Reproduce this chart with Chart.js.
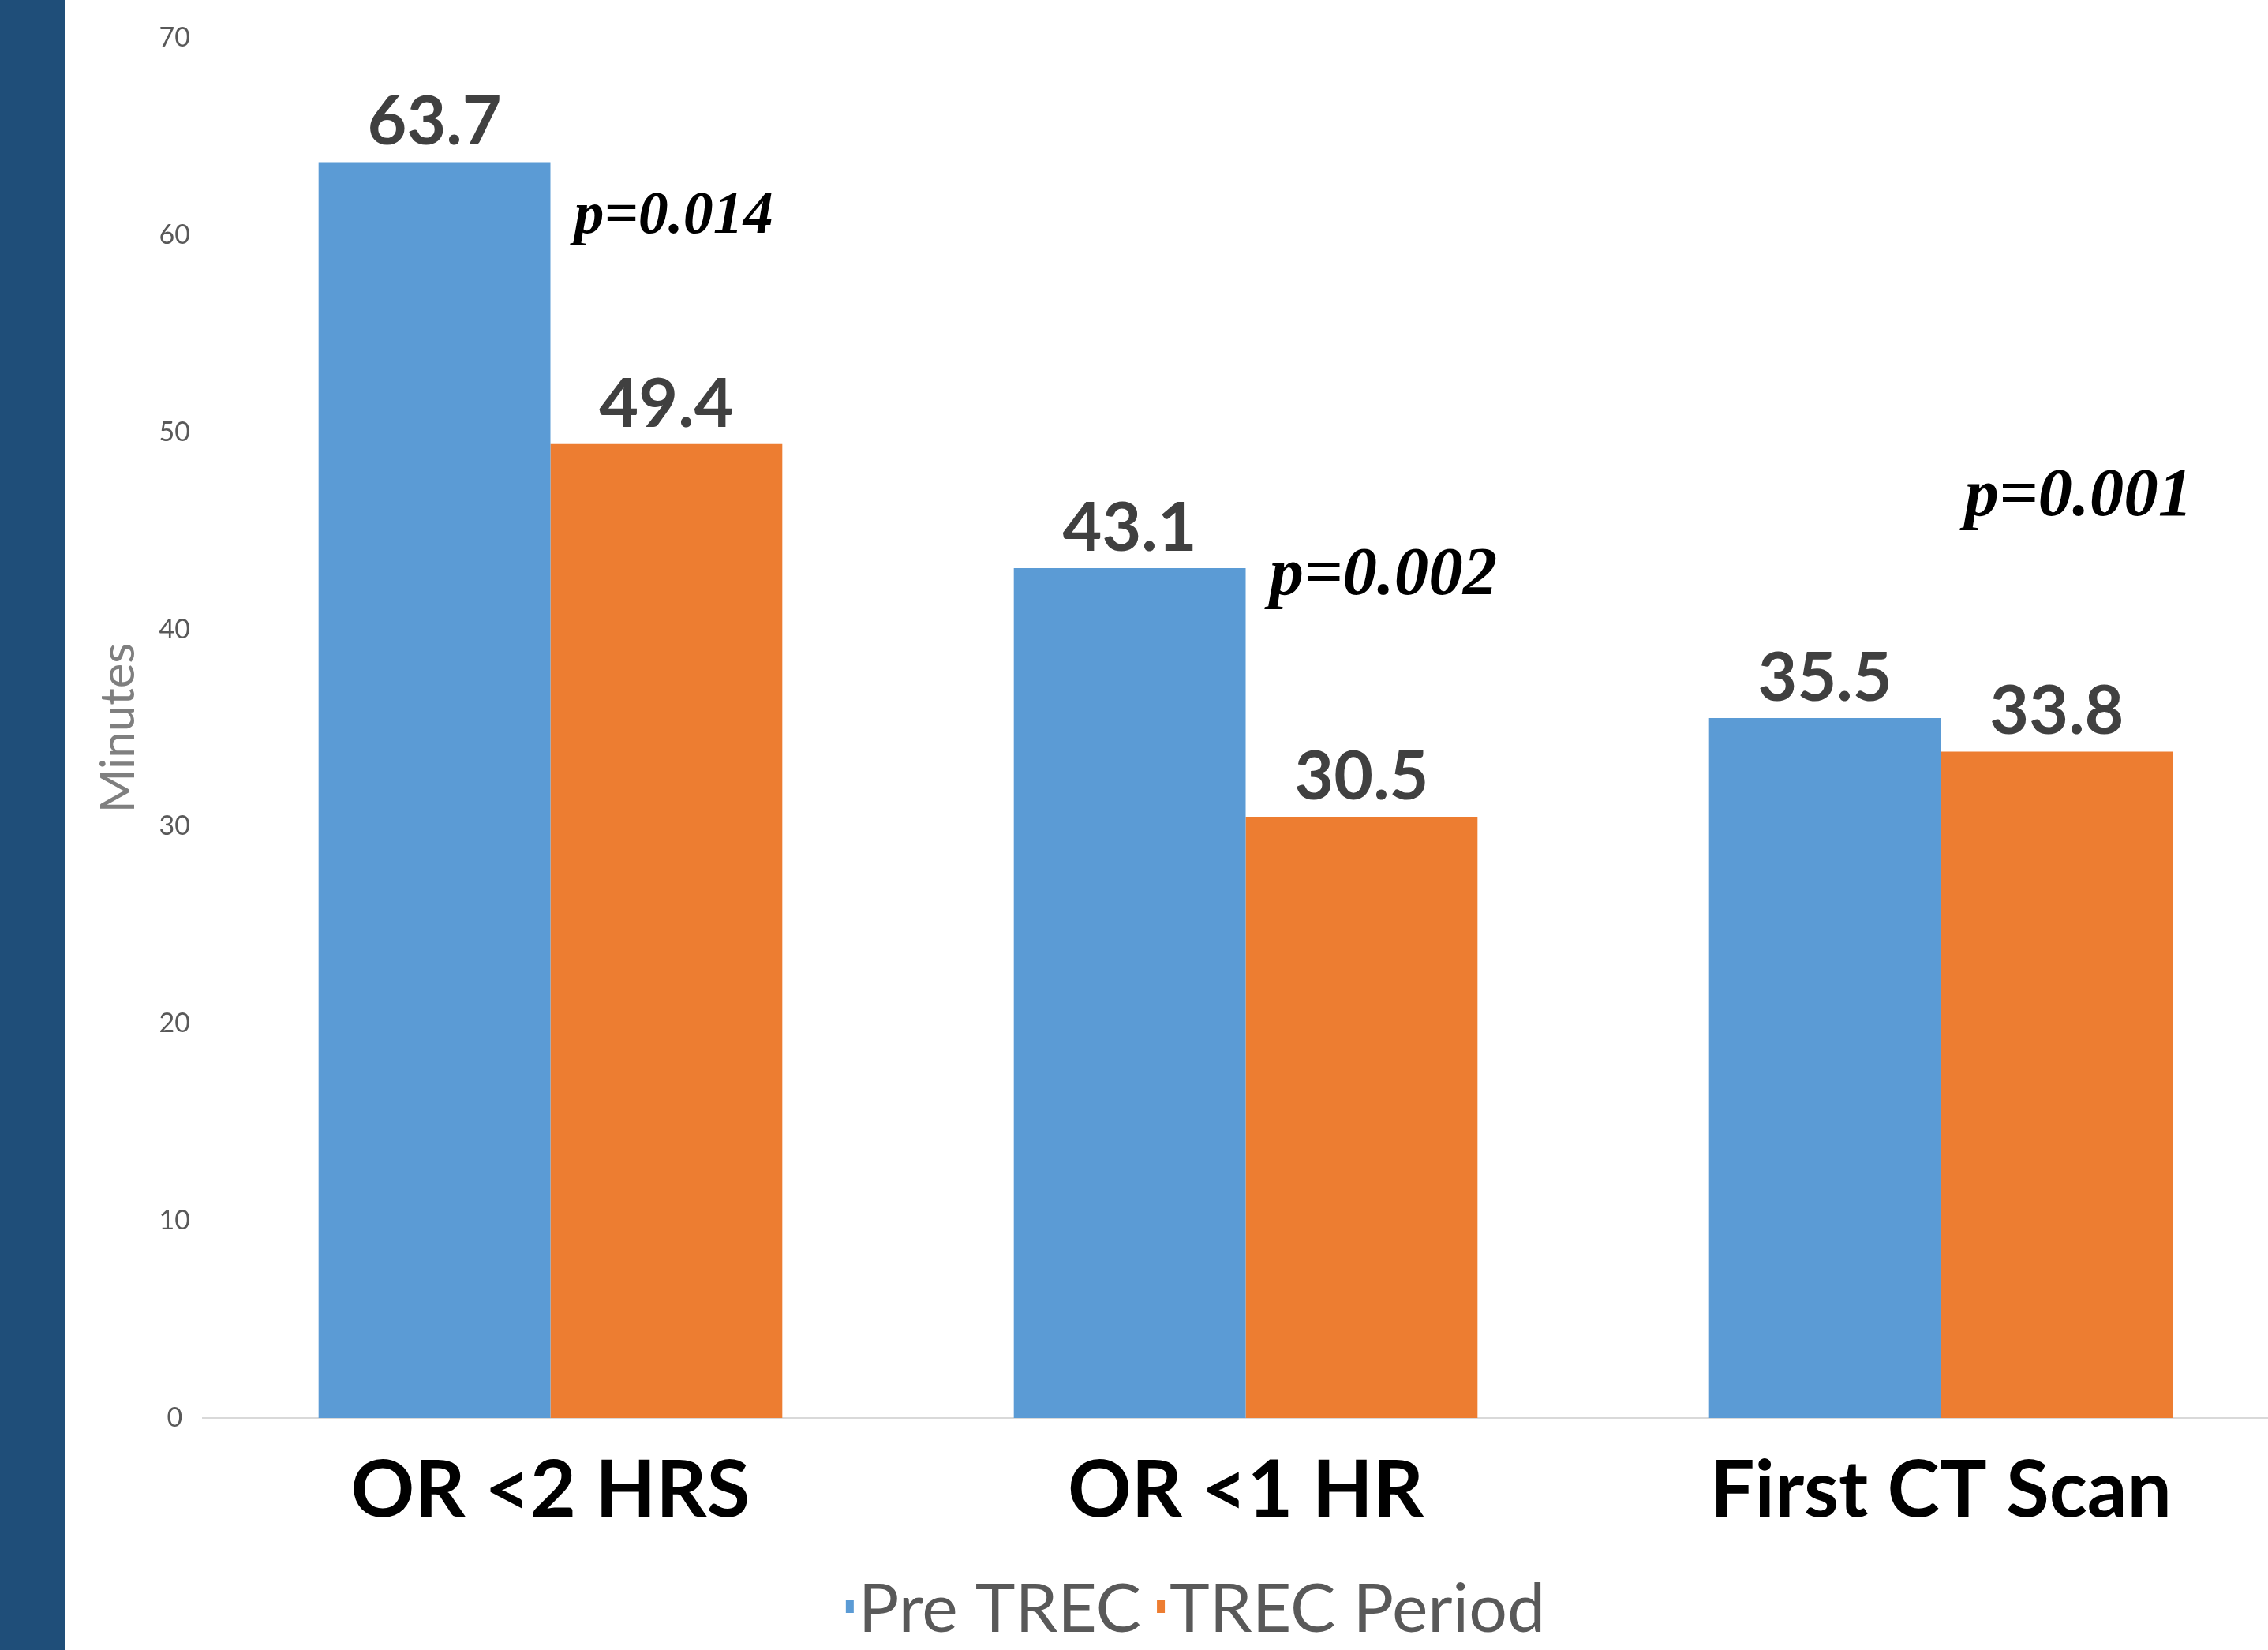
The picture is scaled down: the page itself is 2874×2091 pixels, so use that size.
<!DOCTYPE html>
<html>
<head>
<meta charset="utf-8">
<script src="https://cdn.jsdelivr.net/npm/chart.js@4.4.0/dist/chart.umd.min.js"></script>
<style>
  html, body { margin: 0; padding: 0; background: #fff; overflow: hidden; width: 2874px; height: 2091px; }
  #strip { position: absolute; left: 0; top: 0; width: 82px; height: 2091px; background: #1F4E79; }
  #chart { position: absolute; left: 0; top: 0; }
</style>
</head>
<body>
<div id="strip"></div>
<canvas id="chart" width="2900" height="2091"></canvas>
<script>
const categories = ['OR <2 HRS', 'OR <1 HR', 'First CT Scan'];
const preTrec = [63.7, 43.1, 35.5];
const trecPeriod = [49.4, 30.5, 33.8];
const seriesNames = ['Pre TREC', 'TREC Period'];
const pValues = ['p=0.014', 'p=0.002', 'p=0.001'];
const yMin = 0;
const yMax = 70;
const yStep = 10;

// where the p-value notes sit (in minutes, on the y scale) and how big they are
const pLabelAt = [60.1, 41.8, 45.8];
const pFontSize = [76, 87, 87];

const blue = '#5B9BD5';
const orange = '#ED7D31';

const extras = {
  id: 'extras',
  afterDatasetsDraw(chart) {
    const ctx = chart.ctx;
    ctx.save();
    // values over the bars
    ctx.font = 'bold 86px Lato';
    ctx.fillStyle = '#404040';
    ctx.textAlign = 'center';
    ctx.textBaseline = 'alphabetic';
    chart.data.datasets.forEach((ds, i) => {
      chart.getDatasetMeta(i).data.forEach((bar, j) => {
        ctx.fillText(ds.data[j].toFixed(1), bar.x, bar.y - 22);
      });
    });
    // p values
    const xs = chart.scales.x, ys = chart.scales.y;
    ctx.fillStyle = '#000';
    ctx.textAlign = 'left';
    pValues.forEach((p, i) => {
      ctx.font = 'italic bold ' + pFontSize[i] + 'px "Liberation Serif"';
      ctx.fillText(p, xs.getPixelForValue(i) + 30, ys.getPixelForValue(pLabelAt[i]));
    });
    ctx.restore();
  },
  afterDraw(chart) {
    // legend, small square markers tight to the text
    const ctx = chart.ctx;
    ctx.save();
    ctx.font = '86px Lato';
    const boxW = 10, boxH = 16, gap = 6, itemGap = 20;
    const items = chart.data.datasets.map(d => ({ text: d.label, color: d.backgroundColor, w: ctx.measureText(d.label).width }));
    const total = items.reduce((s, it) => s + boxW + gap + it.w, 0) + itemGap * (items.length - 1);
    let x = 1515 - total / 2;
    const baseY = 2068;
    ctx.textBaseline = 'alphabetic';
    ctx.textAlign = 'left';
    items.forEach(it => {
      ctx.fillStyle = it.color;
      ctx.fillRect(x, baseY - 40, boxW, boxH);
      x += boxW + gap;
      ctx.fillStyle = '#595959';
      ctx.fillText(it.text, x, baseY);
      x += it.w + itemGap;
    });
    ctx.restore();
  }
};

new Chart(document.getElementById('chart'), {
  type: 'bar',
  data: {
    labels: categories,
    datasets: [
      { label: seriesNames[0], data: preTrec, backgroundColor: blue, borderWidth: 0 },
      { label: seriesNames[1], data: trecPeriod, backgroundColor: orange, borderWidth: 0 }
    ]
  },
  options: {
    responsive: false,
    animation: false,
    layout: { padding: { left: 115, top: 48, right: 0, bottom: 116 } },
    datasets: { bar: { barPercentage: 1, categoryPercentage: 0.667 } },
    plugins: { legend: { display: false }, tooltip: { enabled: false } },
    scales: {
      x: {
        grid: { display: false },
        border: { display: true, color: '#d9d9d9', width: 2 },
        ticks: { color: '#000', padding: 25, font: { family: 'Lato', weight: 'bold', size: 100 } }
      },
      y: {
        min: yMin,
        max: yMax,
        grid: { display: false, drawTicks: false },
        border: { display: false },
        ticks: { stepSize: yStep, color: '#595959', padding: 16, crossAlign: 'center', font: { family: 'Lato', size: 34 } },
        title: { display: true, text: 'Minutes', color: '#7f7f7f', padding: { top: 0, bottom: 0 }, font: { family: 'Lato', size: 60 } },
        afterFit(scale) { scale.width = 142; }
      }
    }
  },
  plugins: [extras]
});
</script>
</body>
</html>
